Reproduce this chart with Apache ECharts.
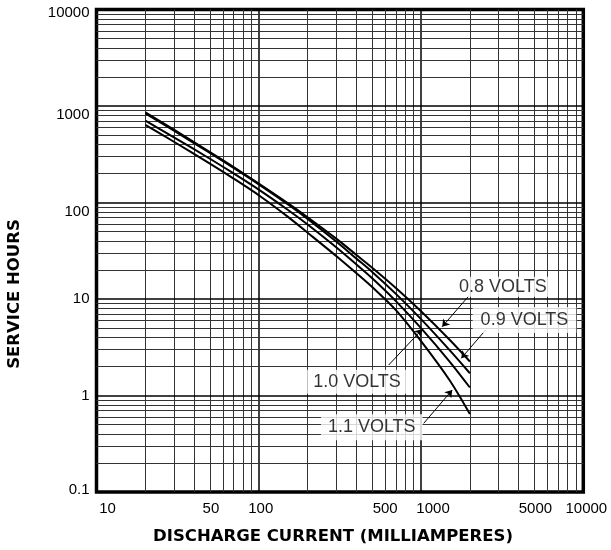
<!DOCTYPE html>
<html>
<head>
<meta charset="utf-8">
<style>
  html, body { margin: 0; padding: 0; background: #fff; }
  #chart { width: 611px; height: 550px; }
</style>
<script src="https://cdn.jsdelivr.net/npm/echarts@6/dist/echarts.min.js"></script>
</head>
<body>
<div id="chart"></div>
<script>
// discharge current (mA) at which each curve is read
const currents = [20, 30, 50, 70, 100, 150, 200, 300, 400, 500, 700, 1000, 1500, 2000];
// service hours per cut-off voltage
const hours08V = [859, 568, 333, 233, 157, 99.1, 70.3, 42.2, 28.6, 21.1, 13.0, 7.46, 3.78, 2.25];
const hours09V = [839, 555, 326, 228, 154, 96.4, 67.6, 39.4, 26.2, 19.1, 11.3, 6.18, 2.95, 1.70];
const hours10V = [706, 474, 284, 200, 136, 84.7, 59.2, 34.4, 22.8, 16.4, 9.51, 4.99, 2.25, 1.21];
const hours11V = [637, 426, 253, 177, 119, 71.8, 48.6, 27.9, 18.5, 13.3, 7.67, 3.66, 1.44, 0.643];
const curveNames = ['0.8 VOLTS', '0.9 VOLTS', '1.0 VOLTS', '1.1 VOLTS'];

const xTickLabels = [10, 50, 100, 500, 1000, 5000, 10000];
const yTickLabels = [0.1, 1, 10, 100, 1000, 10000];
const xDecades = [10, 100, 1000];
const yDecades = [0.1, 1, 10, 100, 1000];
const multipliers = [2, 3, 4, 5, 6, 7, 8, 9];

// callouts: label anchor and arrow (from label -> curve), in data units
const callouts = [
    { text: '0.8 VOLTS', at: [3194, 13.4], from: [1955, 10.6], to: [1350, 5.16] },
    { text: '0.9 VOLTS', at: [4340, 6.06], from: [2500, 4.77], to: [1770, 2.43] },
    { text: '1.0 VOLTS', at: [403, 1.39], from: [632, 2.07], to: [1016, 4.85] },
    { text: '1.1 VOLTS', at: [497, 0.468], from: [1039, 0.515], to: [1557, 1.14] }
];
const calloutPadding = [[1, 3], [4, 8], [3, 6], [4, 7]];

// small nudges the original tick labels have
const xShift = { 10: 11, 50: 1, 100: 2, 500: 13, 1000: 12, 5000: 1, 10000: 3 };
const yShift = { 10000: 3, 1000: 9, 100: 9, 10: 0, 1: 0, 0.1: -2 };

const tickFont = '"Liberation Sans", Arial, sans-serif';
const titleFont = 'bold 16.5px "DejaVu Sans", sans-serif';

const chart = echarts.init(document.getElementById('chart'));

const pairs = (ys) => currents.map((c, i) => [c, ys[i]]);

// grid lines (1-9 per decade)
const gridLines = [];
xDecades.forEach((d) => {
    if (d !== 10) gridLines.push({ xAxis: d, lineStyle: { color: '#000', width: 1.5 } });
    multipliers.forEach((m) => gridLines.push({ xAxis: d * m }));
});
yDecades.forEach((d) => {
    if (d !== 0.1) gridLines.push({ yAxis: d, lineStyle: { color: '#000', width: 1.5 } });
    multipliers.forEach((m) => gridLines.push({ yAxis: d * m }));
});

const xRich = {};
xTickLabels.forEach((v, i) => {
    xRich['x' + i] = { padding: [0, 0, 0, 2 * xShift[v]], fontFamily: tickFont, fontSize: 15, color: '#000' };
});
const yRich = {};
yTickLabels.forEach((v, i) => {
    const s = yShift[v];
    yRich['y' + i] = {
        padding: s >= 0 ? [2 * s, 0, 0, 0] : [0, 0, -2 * s, 0],
        fontFamily: tickFont, fontSize: 15, color: '#000'
    };
});

const curveSeries = [hours08V, hours09V, hours10V, hours11V].map((ys, i) => ({
    name: curveNames[i],
    type: 'line',
    data: pairs(ys),
    smooth: 0.3,
    symbol: 'none',
    z: 5,
    lineStyle: { color: '#000', width: 2 }
}));

const option = {
    animation: false,
    backgroundColor: '#fff',
    grid: {
        left: 96.5, right: 27.7, top: 9.5, bottom: 58,
        show: true, borderColor: '#000', borderWidth: 3.5
    },
    xAxis: {
        type: 'log',
        logBase: 10,
        min: 10,
        max: 10000,
        axisLine: { show: false },
        axisTick: { show: false },
        splitLine: { show: false },
        axisLabel: {
            customValues: xTickLabels,
            margin: 9,
            formatter: (v) => {
                const i = xTickLabels.findIndex((t) => Math.abs(t - v) / t < 1e-6);
                return i < 0 ? '' : '{x' + i + '|' + xTickLabels[i] + '}';
            },
            rich: xRich
        }
    },
    yAxis: {
        type: 'log',
        logBase: 10,
        min: 0.1,
        max: 10000,
        axisLine: { show: false },
        axisTick: { show: false },
        splitLine: { show: false },
        axisLabel: {
            customValues: yTickLabels,
            margin: 7,
            formatter: (v) => {
                const i = yTickLabels.findIndex((t) => Math.abs(t - v) / t < 1e-6);
                return i < 0 ? '' : '{y' + i + '|' + yTickLabels[i] + '}';
            },
            rich: yRich
        }
    },
    graphic: [
        {
            type: 'text', x: 333, y: 537,
            style: { text: 'DISCHARGE CURRENT (MILLIAMPERES)', font: titleFont, fill: '#000', align: 'center', verticalAlign: 'middle' }
        },
        {
            type: 'text', x: 15, y: 294, rotation: Math.PI / 2,
            style: { text: 'SERVICE HOURS', font: titleFont, fill: '#000', align: 'center', verticalAlign: 'middle' }
        }
    ],
    series: [
        {
            name: 'grid',
            type: 'line',
            data: [],
            silent: true,
            z: 1,
            markLine: {
                silent: true,
                symbol: 'none',
                label: { show: false },
                lineStyle: { color: '#333', width: 1, type: 'solid' },
                emphasis: { disabled: true },
                data: gridLines
            }
        },
        ...curveSeries,
        {
            name: 'callouts',
            type: 'scatter',
            symbolSize: 0,
            silent: true,
            z: 8,
            data: callouts.map((c, i) => ({
                value: c.at,
                label: {
                    show: true,
                    position: 'inside',
                    formatter: c.text,
                    fontFamily: '"Liberation Sans", Arial, sans-serif',
                    fontSize: 18,
                    color: '#000',
                    backgroundColor: '#fff',
                    padding: calloutPadding[i]
                }
            })),
            markLine: {
                silent: true,
                symbol: ['none', 'arrow'],
                symbolSize: 7,
                label: { show: false },
                lineStyle: { color: '#000', width: 1, type: 'solid' },
                emphasis: { disabled: true },
                data: callouts.map((c) => [{ coord: c.from }, { coord: c.to }])
            }
        }
    ]
};

chart.setOption(option);
</script>
</body>
</html>
